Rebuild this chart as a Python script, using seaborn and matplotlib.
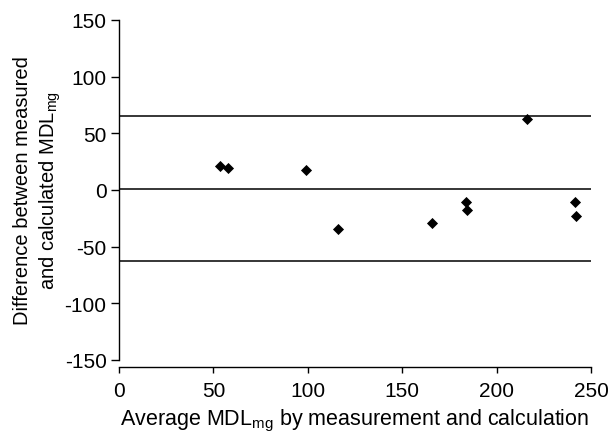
import matplotlib
matplotlib.use("Agg")
import matplotlib.pyplot as plt
import seaborn as sns
import pandas as pd
from matplotlib import font_manager

avg_mdl = [53.6, 57.5, 99.1, 116.2, 165.8, 183.8, 184.5, 216.2, 241.3, 242.0]
diff_mdl = [20.9, 19.1, 17.4, -34.7, -29.4, -10.9, -17.4, 62.7, -10.9, -22.7]
limit_lines = [65.0, 1.2, -62.6]
x_ticks = [0, 50, 100, 150, 200, 250]
y_ticks = [-150, -100, -50, 0, 50, 100, 150]

sns.set_theme(style="ticks")
names = {f.name for f in font_manager.fontManager.ttflist}
fam = "Liberation Sans Narrow" if "Liberation Sans Narrow" in names else "Liberation Sans"
plt.rcParams["font.family"] = [fam, "DejaVu Sans"]
plt.rcParams["mathtext.fontset"] = "custom"
plt.rcParams["mathtext.rm"] = fam
plt.rcParams["mathtext.it"] = fam
plt.rcParams["axes.unicode_minus"] = False

df = pd.DataFrame({"avg": avg_mdl, "diff": diff_mdl})

fig = plt.figure(figsize=(6.09, 4.39), dpi=100)
ax = fig.add_axes([119 / 609, 1 - 361 / 439, (591 - 119) / 609, (361 - 21) / 439])

for v in limit_lines:
    ax.axhline(v, color="black", lw=1.1, zorder=1)

sns.scatterplot(data=df, x="avg", y="diff", marker="D", color="black",
                s=32, linewidth=0, ax=ax, zorder=3)

ax.set_xlim(0, 250)
ax.set_ylim(-150, 150)
ax.set_xticks(x_ticks)
ax.set_yticks(y_ticks)
ax.tick_params(axis="both", direction="out", width=1, labelsize=15,
               colors="black")
ax.tick_params(axis="y", length=6, pad=3)
ax.tick_params(axis="x", length=4, pad=6)
sns.despine(ax=ax)
ax.spines["bottom"].set_position(("outward", 5))
for s in ["left", "bottom"]:
    ax.spines[s].set_color("black")
    ax.spines[s].set_linewidth(1)

ax.set_xlabel(r"Average MDL$_{\mathrm{mg}}$ by measurement and calculation",
              fontsize=15.5, color="black", labelpad=5)
ax.set_ylabel("Difference between measured\n" + r"and calculated MDL$_{\mathrm{mg}}$",
              fontsize=14.5, color="black", linespacing=1.35)
ax.yaxis.set_label_coords(-0.118, 0.5)

fig.savefig("out.png", dpi=100)
